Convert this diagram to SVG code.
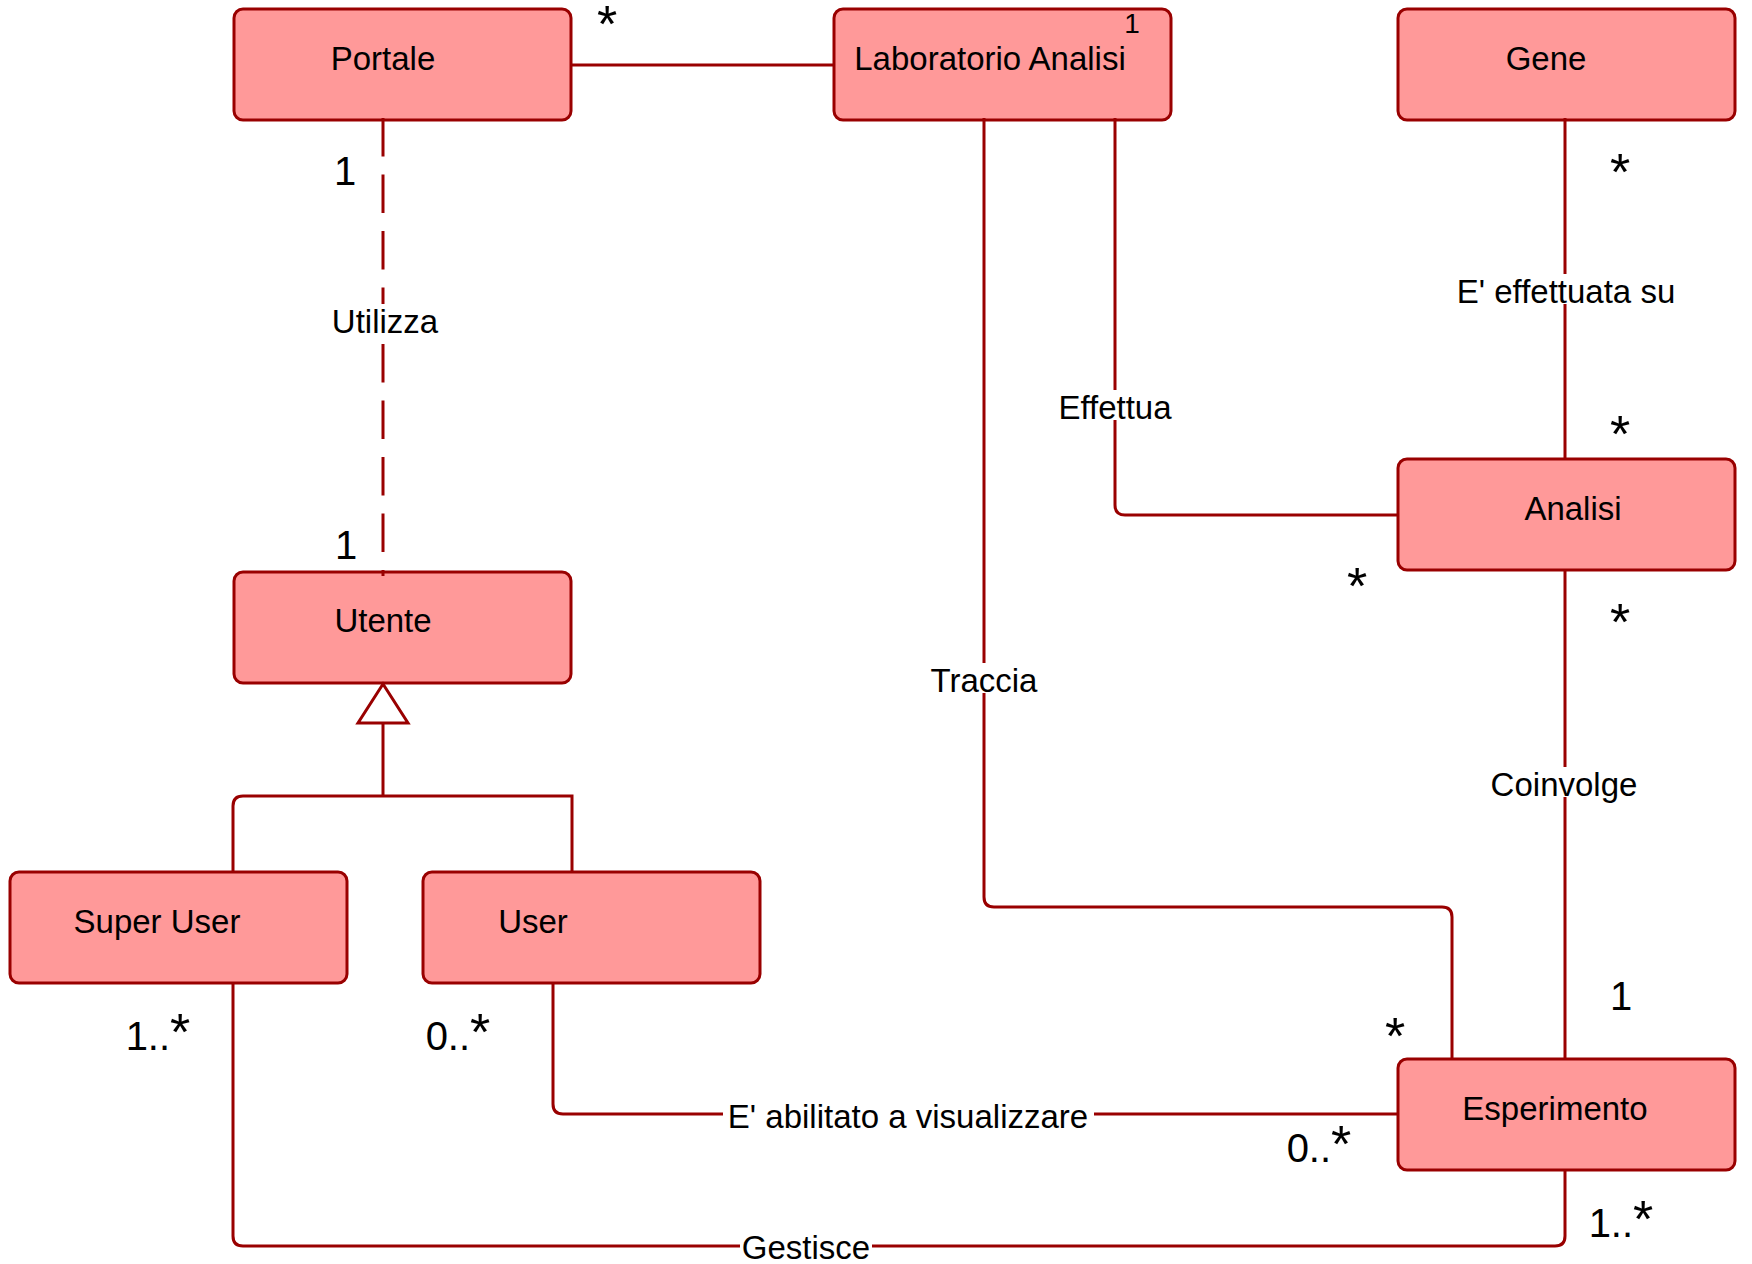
<svg xmlns="http://www.w3.org/2000/svg" width="1752" height="1264" viewBox="0 0 1752 1264">
<style>
.node{fill:#FF9999;stroke:#990000;stroke-width:3}
.edge{fill:none;stroke:#990000;stroke-width:3}
.lbl{font-family:"Liberation Sans",Arial,sans-serif;font-size:33px;fill:#000;text-anchor:middle}
.mul{font-family:"Liberation Sans",Arial,sans-serif;font-size:40px;fill:#000;text-anchor:middle}
.ast{font-size:52px}
.bg{fill:#fff}
</style>
<rect width="1752" height="1264" fill="#fff"/>
<g id="node-portale"><rect class="node" x="234" y="9" width="337" height="111" rx="9"/><text class="lbl" x="383" y="70">Portale</text></g>
<g id="node-laboratorio"><rect class="node" x="834" y="9" width="337" height="111" rx="9"/><text class="lbl" x="990" y="70">Laboratorio Analisi</text></g>
<g id="node-gene"><rect class="node" x="1398" y="9" width="337" height="111" rx="9"/><text class="lbl" x="1546" y="70">Gene</text></g>
<g id="node-analisi"><rect class="node" x="1398" y="459" width="337" height="111" rx="9"/><text class="lbl" x="1573" y="520">Analisi</text></g>
<g id="node-utente"><rect class="node" x="234" y="572" width="337" height="111" rx="9"/><text class="lbl" x="383" y="632">Utente</text></g>
<g id="node-superuser"><rect class="node" x="10" y="872" width="337" height="111" rx="9"/><text class="lbl" x="157" y="933">Super User</text></g>
<g id="node-user"><rect class="node" x="423" y="872" width="337" height="111" rx="9"/><text class="lbl" x="533" y="933">User</text></g>
<g id="node-esperimento"><rect class="node" x="1398" y="1059" width="337" height="111" rx="9"/><text class="lbl" x="1555" y="1120">Esperimento</text></g>
<g id="connectors">
<path class="edge" d="M571 65 H834"/>
<path class="edge" d="M383 118 V576" stroke-dasharray="38.5 18"/>
<polygon class="edge" points="383,684 358,723 408,723" style="fill:#fff"/>
<path class="edge" d="M383 723 V796"/>
<path class="edge" d="M233 872 V806 Q233 796 243 796 H383"/>
<path class="edge" d="M572 872 V796 H383"/>
<path class="edge" d="M984 118 V897 Q984 907 994 907 H1442 Q1452 907 1452 917 V1060"/>
<path class="edge" d="M1115 118 V505 Q1115 515 1125 515 H1398"/>
<path class="edge" d="M1565 118 V460"/>
<path class="edge" d="M1565 569 V1060"/>
<path class="edge" d="M553 982 V1104 Q553 1114 563 1114 H1398"/>
<path class="edge" d="M233 982 V1236 Q233 1246 243 1246 H1555 Q1565 1246 1565 1236 V1169"/>
<rect class="bg" x="332" y="304" width="106" height="30"/>
<text class="lbl" x="385" y="333">Utilizza</text>
<rect class="bg" x="930" y="663" width="108" height="30"/>
<text class="lbl" x="984" y="692">Traccia</text>
<rect class="bg" x="1060" y="390" width="110" height="30"/>
<text class="lbl" x="1115" y="419">Effettua</text>
<rect class="bg" x="1456" y="274" width="220" height="30"/>
<text class="lbl" x="1566" y="303">E' effettuata su</text>
<rect class="bg" x="1490" y="767" width="148" height="30"/>
<text class="lbl" x="1564" y="796">Coinvolge</text>
<rect class="bg" x="723" y="1100" width="371" height="30"/>
<text class="lbl" x="908" y="1128">E' abilitato a visualizzare</text>
<rect class="bg" x="740" y="1232" width="132" height="30"/>
<text class="lbl" x="806" y="1259">Gestisce</text>
<text class="mul ast" x="607" y="42">*</text>
<text class="mul" x="1132" y="33" style="font-size:28px">1</text>
<text class="mul" x="345" y="185">1</text>
<text class="mul" x="346" y="559">1</text>
<text class="mul ast" x="1620" y="190">*</text>
<text class="mul ast" x="1620" y="452">*</text>
<text class="mul ast" x="1357" y="604">*</text>
<text class="mul ast" x="1620" y="640">*</text>
<text class="mul" x="1621" y="1010">1</text>
<text class="mul ast" x="1395" y="1054">*</text>
<text class="mul" x="158" y="1050">1..<tspan class="ast">*</tspan></text>
<text class="mul" x="458" y="1050">0..<tspan class="ast">*</tspan></text>
<text class="mul" x="1319" y="1162">0..<tspan class="ast">*</tspan></text>
<text class="mul" x="1621" y="1237">1..<tspan class="ast">*</tspan></text>
</g>
</svg>
